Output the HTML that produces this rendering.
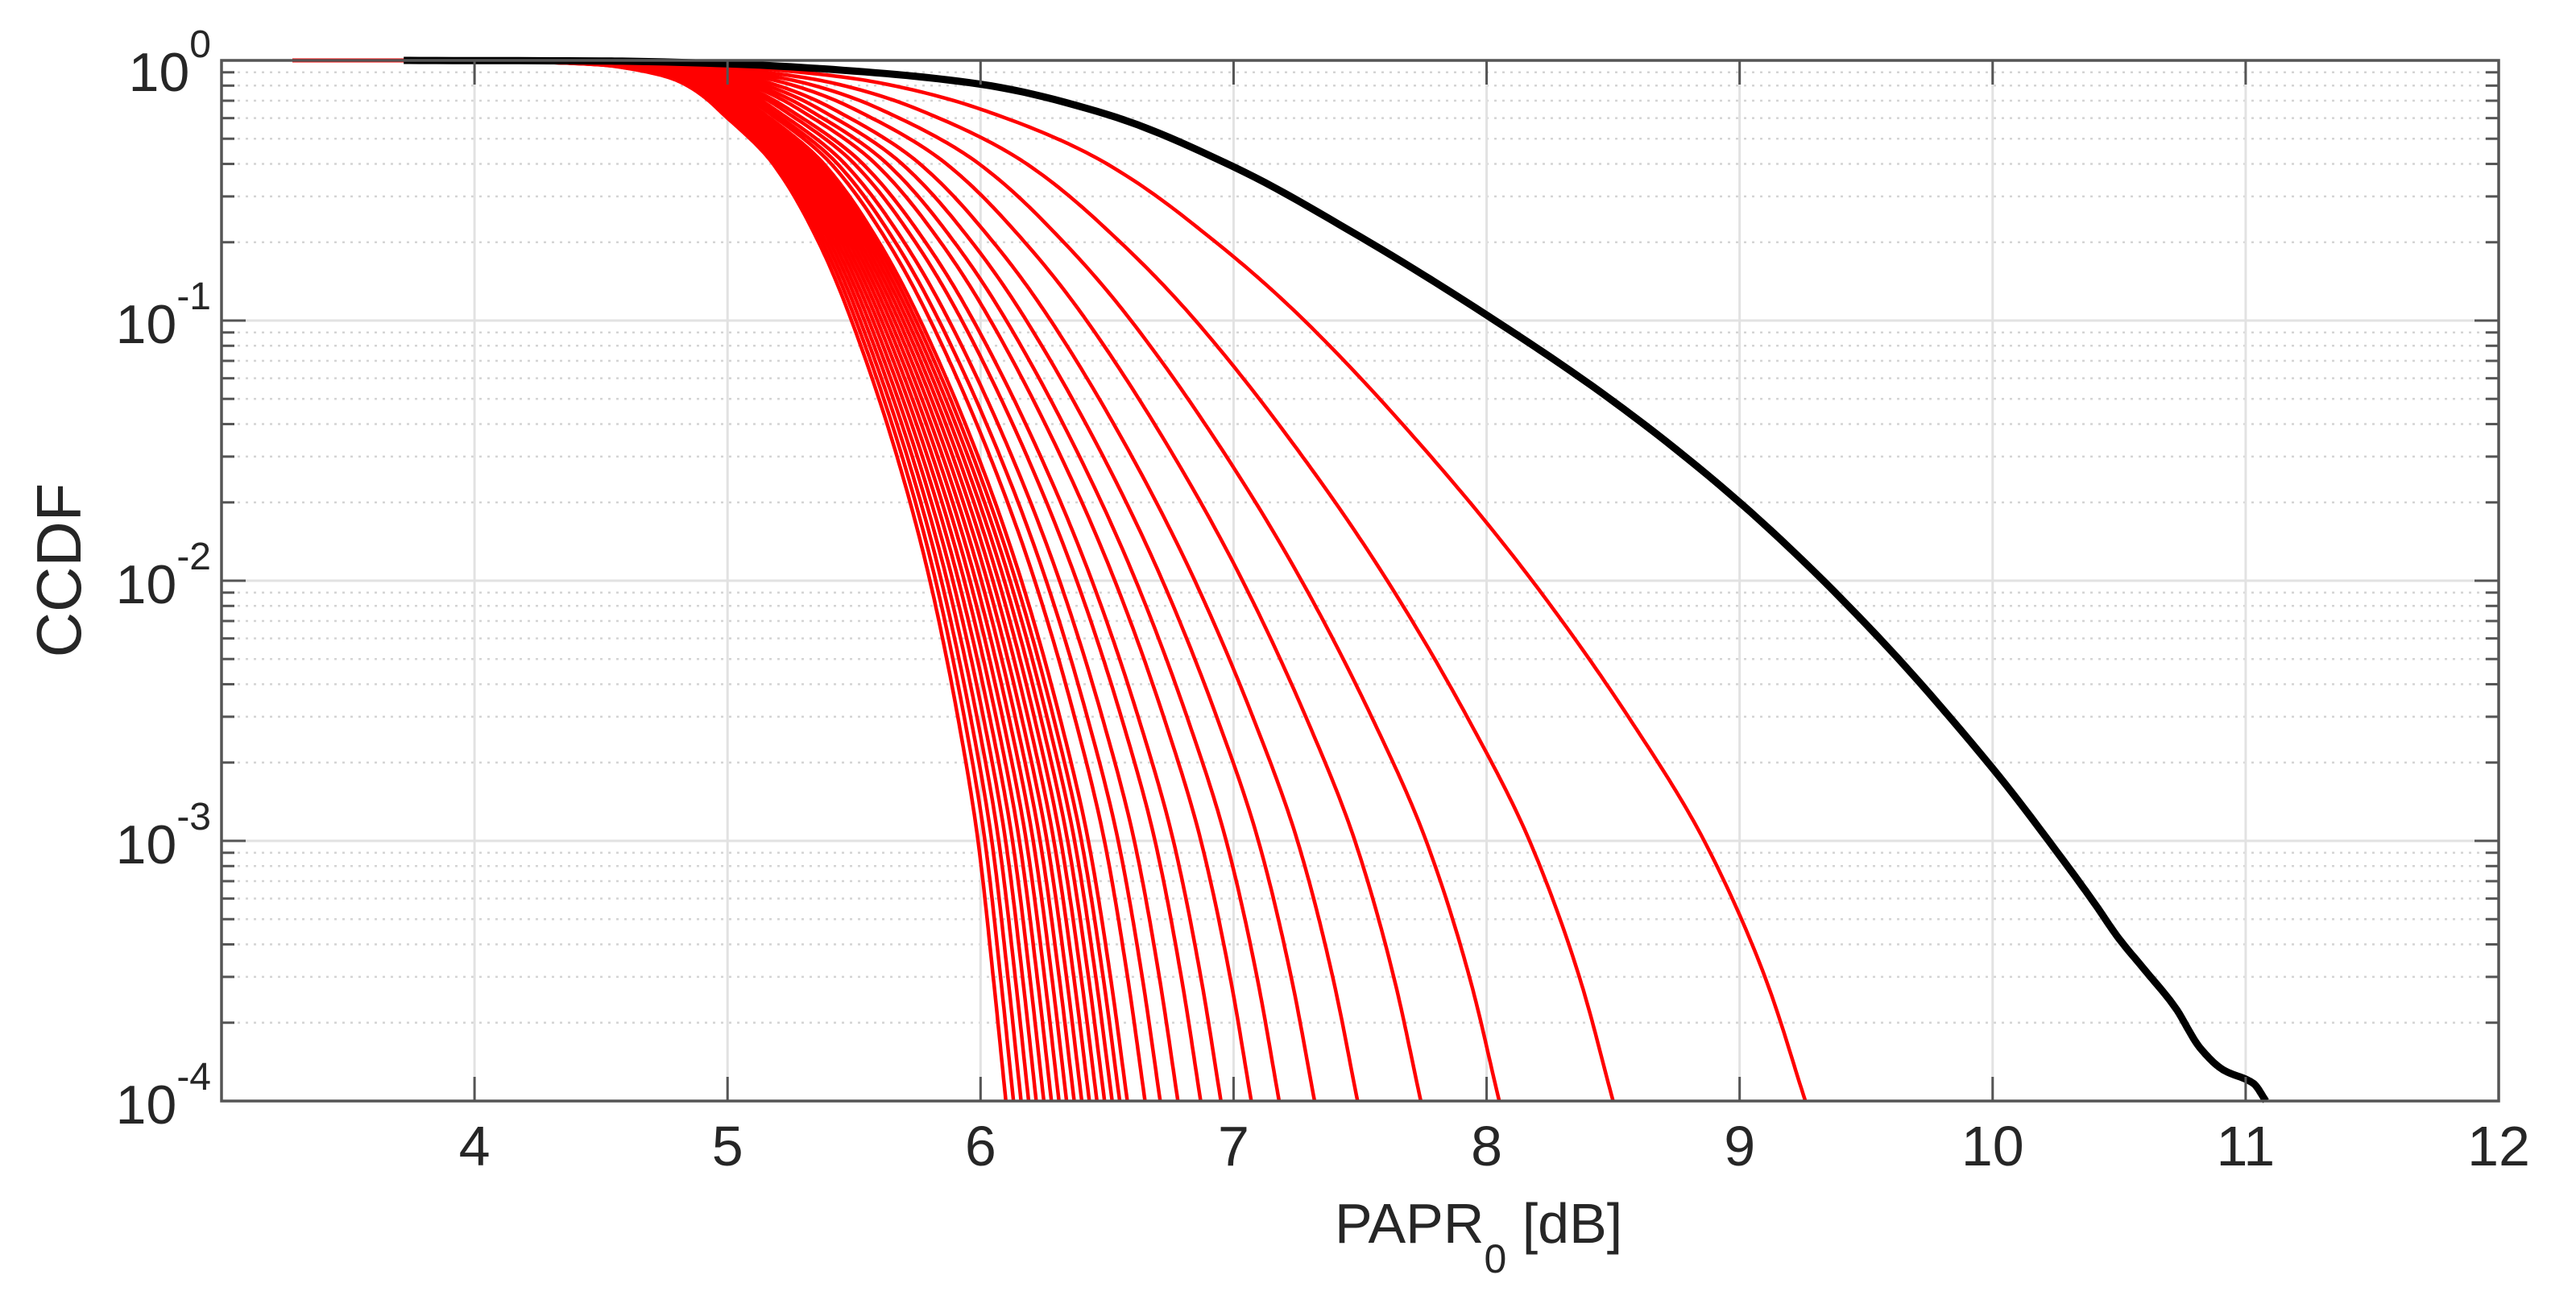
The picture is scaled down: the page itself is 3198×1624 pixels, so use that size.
<!DOCTYPE html>
<html><head><meta charset="utf-8"><title>CCDF of PAPR</title>
<style>html,body{margin:0;padding:0;background:#fff}svg{display:block}text{font-family:"Liberation Sans",Arial,sans-serif;fill:#262626}</style>
</head><body>
<svg id="chart" width="3198" height="1624" viewBox="0 0 3198 1624" xmlns="http://www.w3.org/2000/svg">
<rect width="3198" height="1624" fill="#fff"/>
<g id="grid"></g>
<g id="series"></g>
<g id="axes"></g>
<text transform="translate(100,708) rotate(-90)" text-anchor="middle" font-size="78">CCDF</text>
<text x="1657" y="1543" font-size="70">PAPR<tspan font-size="50" dy="37">0</tspan><tspan dy="-37"> [dB]</tspan></text>
</svg>
<script>
// ---- data ----
const xTicks = [4,5,6,7,8,9,10,11,12];
const yDecades = [0,-1,-2,-3,-4];
const yTickLabels = ["0","-1","-2","-3","-4"];
// CCDF levels at which the red curves are sampled
const redLevels = [0.9999, 0.999, 0.95, 0.82, 0.6, 0.4, 0.2, 0.1, 0.03, 0.01, 0.003, 0.001, 0.0003, 0.0001];
// PAPR (dB) of the leftmost and rightmost red curves at those levels
const redLeftPapr  = [3.28, 4.00, 4.55, 4.82, 5.00, 5.18, 5.36, 5.49, 5.67, 5.80, 5.91, 5.99, 6.05, 6.10];
const redRightPapr = [3.28, 4.30, 5.00, 5.60, 6.10, 6.50, 6.93, 7.28, 7.78, 8.18, 8.56, 8.86, 9.10, 9.26];
// PAPR where each red curve reaches 1e-4
const redEndPapr = [6.10,6.13,6.16,6.19,6.22,6.25,6.28,6.31,6.34,6.37,6.40,6.43,6.46,6.49,6.52,6.55,6.58,6.65,6.71,6.78,6.87,6.95,7.07,7.18,7.32,7.49,7.74,8.05,8.50,9.26];
// black reference curve
const blackPapr = [3.72,4.5,5.0,5.5,6.0,6.5,7.0,7.5,8.0,8.5,9.0,9.5,10.0,10.3,10.4,10.5,10.6,10.72,10.82,10.91,11.03,11.08];
const blackCcdf = [0.9999,0.995,0.97,0.91,0.81,0.62,0.39,0.21,0.105,0.049,0.02,0.0068,0.0019,0.00079,0.00058,0.00042,0.00032,0.00023,0.00016,0.000132,0.000117,0.0001];

// ---- scales ----
const L=275, R=3102, T=75, B=1367;
const X = v => L + (v-3)/(12-3)*(R-L);
const Y = p => T + (-Math.log10(p))/4*(B-T);
const NS="http://www.w3.org/2000/svg";
function mk(tag, attrs, parent){const e=document.createElementNS(NS,tag);for(const k in attrs)e.setAttribute(k,attrs[k]);parent.appendChild(e);return e;}
function monotone(ts, vs, n){
  const m=ts.length, d=[], s=[];
  for(let i=0;i<m-1;i++) d.push((vs[i+1]-vs[i])/(ts[i+1]-ts[i]));
  s[0]=d[0]; s[m-1]=d[m-2];
  for(let i=1;i<m-1;i++){ s[i]=(d[i-1]*d[i]<=0)?0:(2/(1/d[i-1]+1/d[i])); }
  const out=[];
  for(let i=0;i<m-1;i++){
    const h=ts[i+1]-ts[i];
    for(let k=0;k<n;k++){
      const u=k/n, h00=2*u*u*u-3*u*u+1, h10=u*u*u-2*u*u+u, h01=-2*u*u*u+3*u*u, h11=u*u*u-u*u;
      out.push([ts[i]+u*h, h00*vs[i]+h10*h*s[i]+h01*vs[i+1]+h11*h*s[i+1]]);
    }
  }
  out.push([ts[m-1],vs[m-1]]);
  return out;
}
const grid=document.getElementById('grid'), axes=document.getElementById('axes'), series=document.getElementById('series');

for(let d=0; d>-4; d--){
  for(let m=2;m<=9;m++){
    const y=Y(m*Math.pow(10,d-1));
    const g=mk('line',{x1:L,x2:R,y1:y,y2:y,stroke:'#d4d4d4','stroke-width':2.5,'stroke-dasharray':'3 7'},grid);
    
    
    const t1=mk('line',{x1:L,x2:L+16,y1:y,y2:y,stroke:'#555','stroke-width':3},axes);
    
    
    const t2=mk('line',{x1:R,x2:R-16,y1:y,y2:y,stroke:'#555','stroke-width':3},axes);
    
    
  }
}
yDecades.forEach((d,i)=>{
  const y=Y(Math.pow(10,d));
  const g=mk('line',{x1:L,x2:R,y1:y,y2:y,stroke:'#e2e2e2','stroke-width':3},grid);
  
  
  mk('line',{x1:L,x2:L+30,y1:y,y2:y,stroke:'#555','stroke-width':3},axes);
  mk('line',{x1:R,x2:R-30,y1:y,y2:y,stroke:'#555','stroke-width':3},axes);
  const t=mk('text',{x:262,y:(i===0? y+38 : y+28),'text-anchor':'end','font-size':68},axes);
  
  
  t.innerHTML='10<tspan font-size="48" dy="-42">'+yTickLabels[i]+'</tspan>';
});
xTicks.forEach(v=>{
  const x=X(v);
  if(v<12){
    const g=mk('line',{x1:x,x2:x,y1:T,y2:B,stroke:'#e2e2e2','stroke-width':3},grid);
    
    
  }
  mk('line',{x1:x,x2:x,y1:B,y2:B-30,stroke:'#555','stroke-width':3},axes);
  mk('line',{x1:x,x2:x,y1:T,y2:T+30,stroke:'#555','stroke-width':3},axes);
  const t=mk('text',{x:x,y:1447,'text-anchor':'middle','font-size':70},axes);
  
  
  t.textContent=String(v);
});
const box=mk('rect',{x:L,y:T,width:R-L,height:B-T,fill:'none',stroke:'#555','stroke-width':3.5},axes);



const span = redEndPapr[redEndPapr.length-1]-redEndPapr[0];
const redDec = redLevels.map(p=>-Math.log10(p));
redEndPapr.forEach((e,k)=>{
  const t=(e-redEndPapr[0])/span;
  const xs=redLevels.map((p,i)=>redLeftPapr[i]+t*(redRightPapr[i]-redLeftPapr[i]));
  const dense=monotone(redDec, xs, 20);
  const pts=dense.map(q=>X(q[1]).toFixed(1)+','+(T+q[0]/4*(B-T)).toFixed(1));
  pts.unshift(X(3.28).toFixed(1)+','+T);
  const pl=mk('polyline',{points:pts.join(' '),fill:'none',stroke:'#ff0000','stroke-width':4.5,'stroke-linejoin':'round'},series);
  
  
});
const bDec=blackCcdf.map(p=>-Math.log10(p));
const bdense=monotone(blackPapr, bDec, 12);
const bpts=bdense.map(q=>X(q[0]).toFixed(1)+','+(T+q[1]/4*(B-T)).toFixed(1)).join(' ');
const bl=mk('polyline',{points:bpts,fill:'none',stroke:'#000','stroke-width':9,'stroke-linejoin':'round'},series);


</script>
</body></html>
